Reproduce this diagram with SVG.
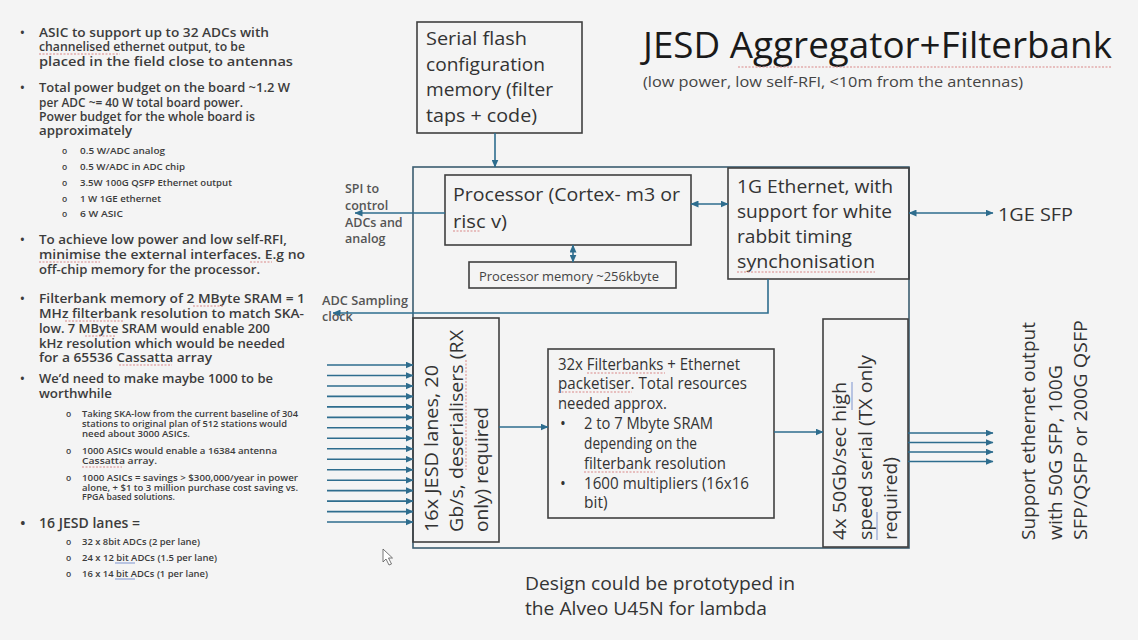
<svg xmlns="http://www.w3.org/2000/svg" width="1138" height="640" viewBox="0 0 1138 640">
  <defs>
    <marker id="arrow" markerUnits="userSpaceOnUse" markerWidth="8" markerHeight="7" refX="7.5" refY="3.5" orient="auto-start-reverse">
      <path d="M0,0 L8,3.5 L0,7 z" fill="#2e6d8e"/>
    </marker>
    <style>
      .bg { fill: #f4f4f4; }
      .box { fill: none; stroke: #404040; stroke-width: 1.6; }
      .outer { fill: none; stroke: #3b5d70; stroke-width: 1.6; }
      .wire { fill: none; stroke: #2e6d8e; stroke-width: 1.6; }
      .arr { marker-end: url(#arrow); }
      .dbl { marker-start: url(#arrow); marker-end: url(#arrow); }
      text { font-family: "Open Sans", "Liberation Sans", sans-serif; fill: #333333; }
      .notes { font-size: 12.5px; font-weight: 600; fill: #3c3c3c; }
      .small { font-size: 8.5px; font-weight: 600; fill: #3c3c3c; }
      .label { font-size: 12.5px; font-weight: 600; fill: #555555; }
      .memo { font-size: 12.5px; fill: #444444; }
      .body { font-size: 19px; fill: #333333; }
      .mid { font-size: 18px; fill: #333333; }
      .fb { font-size: 15.5px; fill: #333333; }
      .title { font-size: 36px; fill: #1a1a1a; }
      .sub { font-size: 15px; fill: #444444; }
      .spell { stroke: #d98888; stroke-width: 1; stroke-dasharray: 2 1.5; fill: none; }
      .gram { stroke: #8fa3d6; stroke-width: 1.2; fill: none; }
    </style>
  </defs>

  <rect class="bg" x="0" y="0" width="1138" height="640"/>

  <!-- Notes column -->
  <g id="notes">
    <text class="notes" x="20" y="37">•</text>
    <text class="notes" x="39" y="37" textLength="230" lengthAdjust="spacingAndGlyphs">ASIC to support up to 32 ADCs with</text>
    <text class="notes" x="39" y="51" textLength="206" lengthAdjust="spacingAndGlyphs">channelised ethernet output, to be</text>
    <text class="notes" x="39" y="66" textLength="254" lengthAdjust="spacingAndGlyphs">placed in the field close to antennas</text>

    <text class="notes" x="20" y="92">•</text>
    <text class="notes" x="39" y="92" textLength="251" lengthAdjust="spacingAndGlyphs">Total power budget on the board ~1.2 W</text>
    <text class="notes" x="39" y="107" textLength="204" lengthAdjust="spacingAndGlyphs">per ADC ~= 40 W total board power.</text>
    <text class="notes" x="39" y="121" textLength="216" lengthAdjust="spacingAndGlyphs">Power budget for the whole board is</text>
    <text class="notes" x="39" y="135" textLength="93" lengthAdjust="spacingAndGlyphs">approximately</text>

    <text class="small" x="62" y="154">o</text>
    <text class="small" x="80" y="154" textLength="85" lengthAdjust="spacingAndGlyphs">0.5 W/ADC analog</text>
    <text class="small" x="62" y="170">o</text>
    <text class="small" x="80" y="170" textLength="105" lengthAdjust="spacingAndGlyphs">0.5 W/ADC in ADC chip</text>
    <text class="small" x="62" y="186">o</text>
    <text class="small" x="80" y="186" textLength="152" lengthAdjust="spacingAndGlyphs">3.5W 100G QSFP Ethernet output</text>
    <text class="small" x="62" y="202">o</text>
    <text class="small" x="80" y="202" textLength="81" lengthAdjust="spacingAndGlyphs">1 W 1GE ethernet</text>
    <text class="small" x="62" y="217">o</text>
    <text class="small" x="80" y="217" textLength="43" lengthAdjust="spacingAndGlyphs">6 W ASIC</text>

    <text class="notes" x="20" y="244">•</text>
    <text class="notes" x="39" y="244" textLength="248" lengthAdjust="spacingAndGlyphs">To achieve low power and low self-RFI,</text>
    <text class="notes" x="39" y="259" textLength="266" lengthAdjust="spacingAndGlyphs">minimise the external interfaces. E.g no</text>
    <text class="notes" x="39" y="274" textLength="221" lengthAdjust="spacingAndGlyphs">off-chip memory for the processor.</text>

    <text class="notes" x="20" y="303">•</text>
    <text class="notes" x="39" y="303" textLength="266" lengthAdjust="spacingAndGlyphs">Filterbank memory of 2 MByte SRAM = 1</text>
    <text class="notes" x="39" y="318" textLength="265" lengthAdjust="spacingAndGlyphs">MHz filterbank resolution to match SKA-</text>
    <text class="notes" x="39" y="333" textLength="231" lengthAdjust="spacingAndGlyphs">low. 7 MByte SRAM would enable 200</text>
    <text class="notes" x="39" y="348" textLength="246" lengthAdjust="spacingAndGlyphs">kHz resolution which would be needed</text>
    <text class="notes" x="39" y="362" textLength="173" lengthAdjust="spacingAndGlyphs">for a 65536 Cassatta array</text>

    <text class="notes" x="20" y="383">•</text>
    <text class="notes" x="39" y="383" textLength="234" lengthAdjust="spacingAndGlyphs">We’d need to make maybe 1000 to be</text>
    <text class="notes" x="39" y="398" textLength="73" lengthAdjust="spacingAndGlyphs">worthwhile</text>

    <text class="small" x="66" y="417">o</text>
    <text class="small" x="82" y="417" textLength="216" lengthAdjust="spacingAndGlyphs">Taking SKA-low from the current baseline of 304</text>
    <text class="small" x="82" y="427" textLength="205" lengthAdjust="spacingAndGlyphs">stations to original plan of 512 stations would</text>
    <text class="small" x="82" y="437" textLength="108" lengthAdjust="spacingAndGlyphs">need about 3000 ASICs.</text>
    <text class="small" x="66" y="454">o</text>
    <text class="small" x="82" y="454" textLength="195" lengthAdjust="spacingAndGlyphs">1000 ASICs would enable a 16384 antenna</text>
    <text class="small" x="82" y="464" textLength="75" lengthAdjust="spacingAndGlyphs">Cassatta array.</text>
    <text class="small" x="66" y="481">o</text>
    <text class="small" x="82" y="481" textLength="216" lengthAdjust="spacingAndGlyphs">1000 ASICs = savings &gt; $300,000/year in power</text>
    <text class="small" x="82" y="490.5" textLength="216" lengthAdjust="spacingAndGlyphs">alone, + $1 to 3 million purchase cost saving vs.</text>
    <text class="small" x="82" y="500" textLength="93" lengthAdjust="spacingAndGlyphs">FPGA based solutions.</text>

    <text class="notes" x="20" y="528" style="font-size:15px">•</text>
    <text class="notes" x="39" y="528" style="font-size:15px" textLength="101" lengthAdjust="spacingAndGlyphs">16 JESD lanes =</text>
    <text class="small" x="66" y="545">o</text>
    <text class="small" x="82" y="545" textLength="118" lengthAdjust="spacingAndGlyphs">32 x 8bit ADCs (2 per lane)</text>
    <text class="small" x="66" y="561">o</text>
    <text class="small" x="82" y="561" textLength="135" lengthAdjust="spacingAndGlyphs">24 x 12 bit ADCs (1.5 per lane)</text>
    <text class="small" x="66" y="577">o</text>
    <text class="small" x="82" y="577" textLength="126" lengthAdjust="spacingAndGlyphs">16 x 14 bit ADCs (1 per lane)</text>

    <!-- proofing marks under words -->
    <line class="spell" x1="39" y1="54" x2="120" y2="54"/>
    <line class="spell" x1="39" y1="262" x2="100" y2="262"/>
    <line class="spell" x1="250" y1="262" x2="272" y2="262"/>
    <line class="spell" x1="193" y1="306" x2="223" y2="306"/>
    <line class="spell" x1="65" y1="321" x2="123" y2="321"/>
    <line class="spell" x1="85" y1="336" x2="115" y2="336"/>
    <line class="spell" x1="119" y1="365" x2="172" y2="365"/>
    <line class="spell" x1="82" y1="467" x2="122" y2="467"/>
    <line class="gram" x1="115" y1="563" x2="135" y2="563"/>
    <line class="gram" x1="115" y1="579" x2="135" y2="579"/>
  </g>

  <!-- Heading -->
  <g id="heading">
    <text class="title" x="643" y="58" textLength="469" lengthAdjust="spacingAndGlyphs">JESD Aggregator+Filterbank</text>
    <line class="spell" x1="738" y1="67" x2="1112" y2="67"/>
    <text class="sub" x="643" y="87" textLength="380" lengthAdjust="spacingAndGlyphs">(low power, low self-RFI, &lt;10m from the antennas)</text>
  </g>

  <!-- Board outline -->
  <g id="board">
    <rect class="outer" x="413" y="167" width="496" height="381"/>
  </g>

  <g id="flash">
    <rect class="box" x="417" y="22" width="165" height="111"/>
    <text class="body" x="426" y="45" textLength="101" lengthAdjust="spacingAndGlyphs">Serial flash</text>
    <text class="body" x="426" y="70.5" textLength="119" lengthAdjust="spacingAndGlyphs">configuration</text>
    <text class="body" x="426" y="96" textLength="127" lengthAdjust="spacingAndGlyphs">memory (filter</text>
    <text class="body" x="426" y="121.5" textLength="111" lengthAdjust="spacingAndGlyphs">taps + code)</text>
  </g>

  <g id="processor">
    <rect class="box" x="445" y="175" width="246" height="70"/>
    <text class="body" x="453" y="201" textLength="227" lengthAdjust="spacingAndGlyphs">Processor (Cortex- m3 or</text>
    <text class="body" x="453" y="228" textLength="54" lengthAdjust="spacingAndGlyphs">risc v)</text>
    <line class="spell" x1="453" y1="231" x2="481" y2="231"/>
  </g>

  <g id="proc-memory">
    <rect class="box" x="469" y="262" width="207" height="26"/>
    <text class="memo" x="479" y="281" textLength="180" lengthAdjust="spacingAndGlyphs">Processor memory ~256kbyte</text>
  </g>

  <g id="ethernet-1g">
    <rect class="box" x="728" y="168" width="181" height="111"/>
    <text class="mid" x="737" y="193" textLength="156" lengthAdjust="spacingAndGlyphs">1G Ethernet, with</text>
    <text class="mid" x="737" y="218" textLength="155" lengthAdjust="spacingAndGlyphs">support for white</text>
    <text class="mid" x="737" y="243" textLength="115" lengthAdjust="spacingAndGlyphs">rabbit timing</text>
    <text class="mid" x="737" y="268" textLength="138" lengthAdjust="spacingAndGlyphs">synchonisation</text>
    <line class="spell" x1="737" y1="272" x2="875" y2="272"/>
  </g>

  <g id="jesd-rx">
    <rect class="box" x="413" y="318" width="86" height="224"/>
    <g transform="translate(438,532) rotate(-90)">
      <text class="mid" x="0" y="0" textLength="167" lengthAdjust="spacingAndGlyphs">16x JESD lanes, 20</text>
    </g>
    <g transform="translate(463,532) rotate(-90)">
      <text class="mid" x="0" y="0" textLength="202" lengthAdjust="spacingAndGlyphs">Gb/s, deserialisers (RX</text>
    </g>
    <g transform="translate(488,532) rotate(-90)">
      <text class="mid" x="0" y="0" textLength="125" lengthAdjust="spacingAndGlyphs">only) required</text>
    </g>
    <line class="spell" x1="466" y1="360" x2="466" y2="470"/>
  </g>

  <g id="filterbank">
    <rect class="box" x="548" y="349" width="226" height="169"/>
    <text class="fb" x="558" y="370" textLength="182" lengthAdjust="spacingAndGlyphs">32x Filterbanks + Ethernet</text>
    <text class="fb" x="558" y="389" textLength="189" lengthAdjust="spacingAndGlyphs">packetiser. Total resources</text>
    <text class="fb" x="558" y="409" textLength="109" lengthAdjust="spacingAndGlyphs">needed approx.</text>
    <text class="fb" x="560" y="429">•</text>
    <text class="fb" x="584" y="429" textLength="129" lengthAdjust="spacingAndGlyphs">2 to 7 Mbyte SRAM</text>
    <text class="fb" x="584" y="449" textLength="113" lengthAdjust="spacingAndGlyphs">depending on the</text>
    <text class="fb" x="584" y="469" textLength="142" lengthAdjust="spacingAndGlyphs">filterbank resolution</text>
    <text class="fb" x="560" y="489">•</text>
    <text class="fb" x="584" y="489" textLength="165" lengthAdjust="spacingAndGlyphs">1600 multipliers (16x16</text>
    <text class="fb" x="584" y="508">bit)</text>
    <line class="spell" x1="587" y1="373" x2="665" y2="373"/>
    <line class="spell" x1="558" y1="392" x2="632" y2="392"/>
    <line class="spell" x1="584" y1="472" x2="655" y2="472"/>
  </g>

  <g id="serial-tx">
    <rect class="box" x="823" y="319" width="85" height="228"/>
    <g transform="translate(846,540) rotate(-90)">
      <text class="mid" x="0" y="0" textLength="158" lengthAdjust="spacingAndGlyphs">4x 50Gb/sec high</text>
    </g>
    <g transform="translate(872,540) rotate(-90)">
      <text class="mid" x="0" y="0" textLength="185" lengthAdjust="spacingAndGlyphs">speed serial (TX only</text>
    </g>
    <g transform="translate(897,540) rotate(-90)">
      <text class="mid" x="0" y="0" textLength="83" lengthAdjust="spacingAndGlyphs">required)</text>
    </g>
    <line class="gram" x1="852" y1="382" x2="852" y2="410"/>
    <line class="gram" x1="877" y1="512" x2="877" y2="540"/>
  </g>

  <!-- Free-standing labels -->
  <g id="spi-label">
    <text class="label" x="345" y="193">SPI to</text>
    <text class="label" x="345" y="210">control</text>
    <text class="label" x="345" y="227">ADCs and</text>
    <text class="label" x="345" y="243">analog</text>
  </g>
  <g id="clock-label">
    <text class="label" x="322" y="305" textLength="86" lengthAdjust="spacingAndGlyphs">ADC Sampling</text>
    <text class="label" x="322" y="321">clock</text>
  </g>
  <g id="sfp-1ge">
    <text class="mid" x="998" y="221" textLength="75" lengthAdjust="spacingAndGlyphs">1GE SFP</text>
  </g>
  <g id="eth-output">
    <g transform="translate(1035,540) rotate(-90)">
      <text class="body" x="0" y="0" textLength="218" lengthAdjust="spacingAndGlyphs">Support ethernet output</text>
    </g>
    <g transform="translate(1062,540) rotate(-90)">
      <text class="body" x="0" y="0" textLength="175" lengthAdjust="spacingAndGlyphs">with 50G SFP, 100G</text>
    </g>
    <g transform="translate(1087,540) rotate(-90)">
      <text class="body" x="0" y="0" textLength="220" lengthAdjust="spacingAndGlyphs">SFP/QSFP or 200G QSFP</text>
    </g>
  </g>
  <g id="prototype-note">
    <text class="body" x="525" y="590" textLength="270" lengthAdjust="spacingAndGlyphs">Design could be prototyped in</text>
    <text class="body" x="525" y="615" textLength="242" lengthAdjust="spacingAndGlyphs">the Alveo U45N for lambda</text>
  </g>

  <!-- Connectors -->
  <g id="connectors">
    <line class="wire arr" x1="495" y1="133" x2="495" y2="167"/>
    <line class="wire arr" x1="445" y1="213" x2="355" y2="213"/>
    <line class="wire dbl" x1="691" y1="204" x2="728" y2="204"/>
    <line class="wire dbl" x1="573" y1="245" x2="573" y2="262"/>
    <line class="wire dbl" x1="909" y1="213" x2="993" y2="213"/>
    <polyline class="wire arr" points="768,279 768,313 333,313"/>

    <line class="wire arr" x1="327" y1="365" x2="413" y2="365"/>
    <line class="wire arr" x1="327" y1="375.5" x2="413" y2="375.5"/>
    <line class="wire arr" x1="327" y1="386" x2="413" y2="386"/>
    <line class="wire arr" x1="327" y1="396.4" x2="413" y2="396.4"/>
    <line class="wire arr" x1="327" y1="406.9" x2="413" y2="406.9"/>
    <line class="wire arr" x1="327" y1="417.4" x2="413" y2="417.4"/>
    <line class="wire arr" x1="327" y1="427.8" x2="413" y2="427.8"/>
    <line class="wire arr" x1="327" y1="438.3" x2="413" y2="438.3"/>
    <line class="wire arr" x1="327" y1="448.8" x2="413" y2="448.8"/>
    <line class="wire arr" x1="327" y1="459.2" x2="413" y2="459.2"/>
    <line class="wire arr" x1="327" y1="469.7" x2="413" y2="469.7"/>
    <line class="wire arr" x1="327" y1="480.2" x2="413" y2="480.2"/>
    <line class="wire arr" x1="327" y1="490.6" x2="413" y2="490.6"/>
    <line class="wire arr" x1="327" y1="501.1" x2="413" y2="501.1"/>
    <line class="wire arr" x1="327" y1="511.6" x2="413" y2="511.6"/>
    <line class="wire arr" x1="327" y1="522" x2="413" y2="522"/>

    <line class="wire arr" x1="499" y1="427" x2="548" y2="427"/>
    <line class="wire arr" x1="774" y1="432" x2="823" y2="432"/>

    <line class="wire arr" x1="908" y1="433" x2="993" y2="433"/>
    <line class="wire arr" x1="908" y1="442.5" x2="993" y2="442.5"/>
    <line class="wire arr" x1="908" y1="452" x2="993" y2="452"/>
    <line class="wire arr" x1="908" y1="461.5" x2="993" y2="461.5"/>
  </g>

  <!-- mouse pointer -->
  <path d="M383,549 L383,562 L386,559 L389,565 L391.5,564 L388.5,558 L392.5,558 Z" fill="#ffffff" stroke="#555555" stroke-width="0.8"/>
</svg>
